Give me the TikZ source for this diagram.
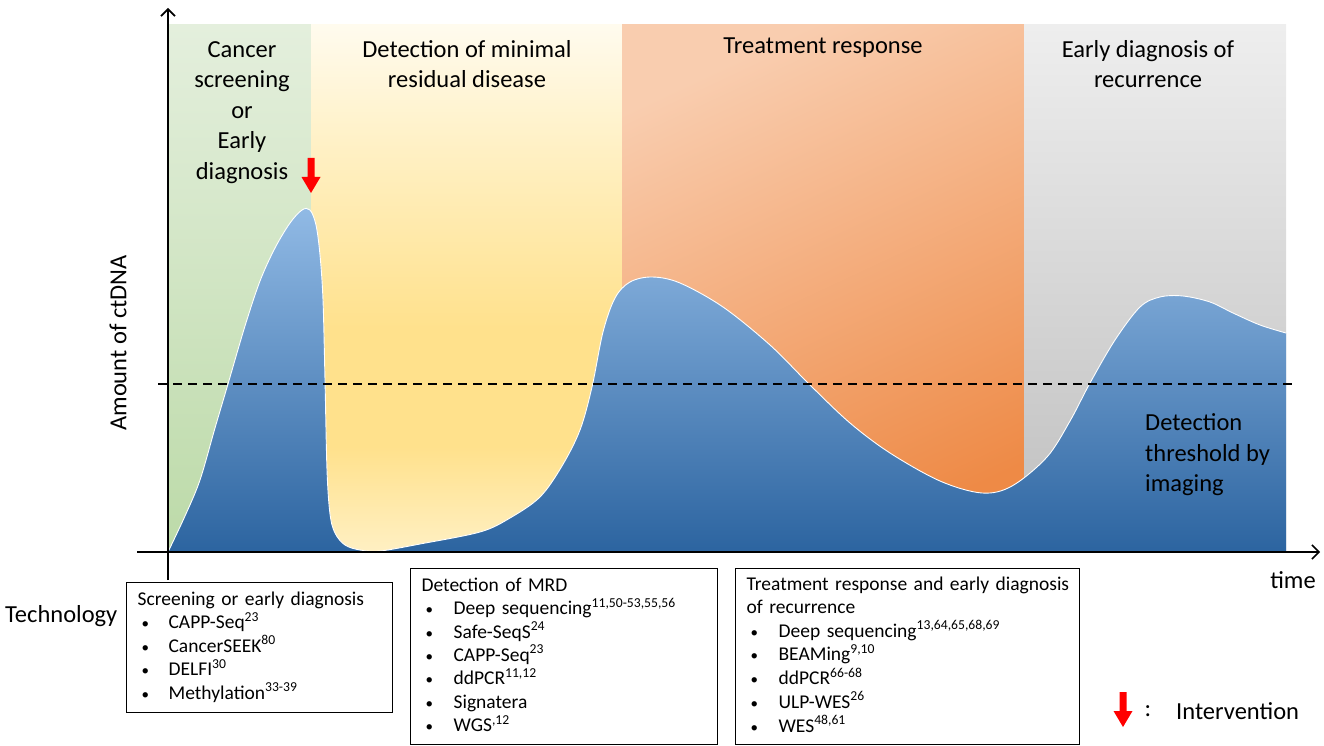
\documentclass[tikz,border=0pt]{standalone}
\usepackage{fontspec}
\setmainfont{Carlito}
\usetikzlibrary{arrows.meta}
\definecolor{greentop}{RGB}{228,239,221}
\definecolor{greenbot}{RGB}{188,218,168}
\definecolor{yeltop}{RGB}{255,251,238}
\definecolor{yelup}{RGB}{255,240,195}
\definecolor{yelmid}{RGB}{255,225,140}
\definecolor{yelbot}{RGB}{255,240,195}
\definecolor{orgtop}{RGB}{249,205,175}
\definecolor{orgbot}{RGB}{238,138,70}
\definecolor{graytop}{RGB}{238,238,238}
\definecolor{graybot}{RGB}{190,190,190}
\definecolor{bluetop}{RGB}{145,186,229}
\definecolor{bluebot}{RGB}{44,100,160}
\pgfdeclareverticalshading{yelshade}{100bp}{color(0bp)=(yelbot); color(25bp)=(yelbot); color(35bp)=(yelmid); color(46bp)=(yelmid); color(63bp)=(yelup); color(75bp)=(yeltop); color(100bp)=(yeltop)}
\tikzset{
  lbl/.style={font=\fontsize{24.5}{30.5}\selectfont, align=center, inner sep=0pt},
  techbox/.style={draw=black, line width=1.2pt, anchor=north west, inner xsep=11pt, inner ysep=0pt,
    font=\fontsize{19.5}{23.3}\selectfont, align=left},
  axis/.style={line width=1.8pt, -{Straight Barb[length=7pt,width=14pt,line width=1.6pt]}},
  intervention/.pic={\fill[red] (-3.5,0) -- (3.5,0) -- (3.5,19) -- (9.5,19) -- (0,35) -- (-9.5,19) -- (-3.5,19) -- cycle;}
}
\newcommand{\bl}{\hspace*{4pt}{\fontsize{15}{15}\selectfont\textbullet}}
\begin{document}
\begin{tikzpicture}[x=1pt,y=-1pt]
\useasboundingbox (0,0) rectangle (1324,746);
% background phases
\shade[top color=greentop, bottom color=greenbot] (168,25) rectangle (311,552);
\shade[shading=yelshade] (311,25) rectangle (622,552);
\shade[top color=orgtop, bottom color=orgbot, shading angle=25] (622,25) rectangle (1024,552);
\shade[top color=graytop, bottom color=graybot] (1024,25) rectangle (1286,552);
% ctDNA curve
\def\ctcurve{(168,552) (185,516) (200,480) (215,428) (228,384) (245,326) (260,281) (275,248) (290,223) (302,210) (310,210) (316,225) (320,255) (323,300) (325,380) (327,470) (330,514) (335,533) (345,545) (360,550) (380,551) (420,544) (480,532) (510,518) (540,497) (562,466) (580,430) (592,387) (603,332) (615,298) (630,282) (652,277) (680,283) (723,307) (770,345) (810,385) (850,423) (890,453) (940,481) (982,493) (1012,486) (1047,457) (1070,421) (1090,383) (1115,340) (1140,307) (1160,297) (1183,296) (1210,302) (1233,313) (1260,325) (1286,333)}
\shade[top color=bluetop, bottom color=bluebot] plot[smooth, tension=0.55] coordinates {\ctcurve} -- (1286,552) -- cycle;
\draw[white, line width=0.9pt] plot[smooth, tension=0.55] coordinates {\ctcurve};
% threshold
\draw[line width=1.8pt, dash pattern=on 9pt off 6pt] (158,384) -- (1296,384);
% axes
\draw[axis] (168,580) -- (168,8);
\draw[axis] (137,552) -- (1320,552);
% intervention arrow
\pic at (311,158) {intervention};
% labels
\node[lbl] (l1) at (242,112.5) {Cancer\\screening\\or\\Early\\diagnosis};
\node[lbl] (l2) at (467,64) {Detection of minimal\\residual disease};
\node[lbl] (l3) at (823,48) {Treatment response};
\node[lbl] (l4) at (1148,64) {Early diagnosis of\\recurrence};
\node[lbl, align=left, anchor=west] (l5) at (1145,455) {Detection\\threshold by\\imaging};
\node[lbl, rotate=90] (yl) at (118,343) {Amount of ctDNA};
\node[lbl] (xl) at (1293,580) {time};
\node[lbl, anchor=west] (tech) at (5,616) {Technology};
% technology boxes
\node[techbox, minimum width=266pt, minimum height=130pt, text width=244pt] (b1) at (126,582) {%
\begin{tabular}{@{}p{31pt}@{}l@{}}
\multicolumn{2}{@{}l@{}}{Screening or early diagnosis}\\
\bl & CAPP-Seq\textsuperscript{23}\\
\bl & CancerSEEK\textsuperscript{80}\\
\bl & DELFI\textsuperscript{30}\\
\bl & Methylation\textsuperscript{33-39}
\end{tabular}};
\node[techbox, minimum width=307pt, minimum height=176pt, text width=285pt] (b2) at (410,568) {%
\begin{tabular}{@{}p{32pt}@{}l@{}}
\multicolumn{2}{@{}l@{}}{Detection of MRD}\\
\bl & Deep sequencing\textsuperscript{11,50-53,55,56}\\
\bl & Safe-SeqS\textsuperscript{24}\\
\bl & CAPP-Seq\textsuperscript{23}\\
\bl & ddPCR\textsuperscript{11,12}\\
\bl & Signatera\\
\bl & WGS\textsuperscript{,12}
\end{tabular}};
\node[techbox, minimum width=344pt, minimum height=176pt, text width=322pt] (b3) at (735,568) {%
\begin{tabular}{@{}p{32pt}@{}l@{}}
\multicolumn{2}{@{}l@{}}{Treatment response and early diagnosis}\\
\multicolumn{2}{@{}l@{}}{of recurrence}\\
\bl & Deep sequencing\textsuperscript{13,64,65,68,69}\\
\bl & BEAMing\textsuperscript{9,10}\\
\bl & ddPCR\textsuperscript{66-68}\\
\bl & ULP-WES\textsuperscript{26}\\
\bl & WES\textsuperscript{48,61}
\end{tabular}};
% legend
\pic at (1123,692) {intervention};
\node[lbl] (colon) at (1148,711) {:};
\node[lbl, anchor=west] (legend) at (1176,711) {Intervention};
\end{tikzpicture}
\end{document}
